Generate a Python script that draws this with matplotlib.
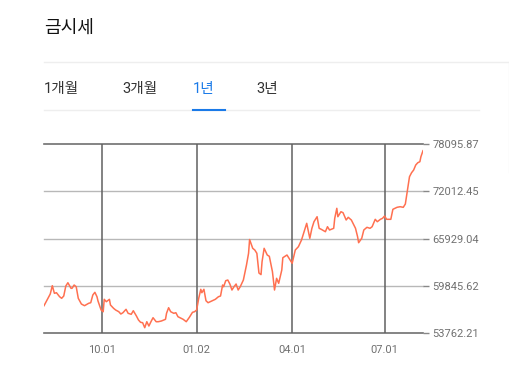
import matplotlib
matplotlib.use("Agg")
import matplotlib.pyplot as plt
from matplotlib.lines import Line2D

plt.rcParams['font.family'] = ['Roboto', 'Noto Sans CJK KR', 'DejaVu Sans']

# day offsets within the 1-year window and gold price
days = [0, 4, 6, 8, 10, 12, 15, 17, 19, 21, 23, 26, 27, 29, 31, 33, 36, 39, 43, 45,
        47, 49, 51, 52, 55, 57, 58, 60, 63, 64, 67, 69, 72, 74, 76, 79, 81, 84, 86, 89,
        91, 93, 95, 97, 99, 101, 103, 105, 108, 110, 113, 117, 118, 120, 122, 125, 127, 129, 132, 134,
        137, 140, 143, 145, 147, 149, 151, 152, 154, 156, 158, 162, 165, 168, 170, 172, 173, 175, 177, 179,
        181, 183, 185, 187, 189, 192, 195, 197, 198, 201, 203, 205, 207, 209, 210, 212, 215, 217, 220, 222,
        224, 226, 229, 230, 234, 236, 239, 242, 245, 248, 250, 253, 255, 256, 258, 260, 263, 265, 267, 271,
        273, 275, 279, 280, 282, 283, 286, 288, 291, 293, 296, 300, 302, 303, 306, 308, 311, 314, 316, 319,
        321, 324, 326, 328, 330, 334, 336, 340, 343, 346, 348, 350, 352, 354, 356, 358, 360, 362, 363, 365]
prices = [57250, 58244, 58761, 59833, 58851, 58929, 58412, 58205, 58502, 59794,
          60220, 59497, 59497, 59923, 59704, 58205, 57469, 57250, 57560, 57637,
          58632, 58980, 58412, 57857, 56694, 56475, 58076, 57766, 58076, 57340,
          56914, 56694, 56475, 56178, 56345, 56785, 56268, 56139, 56604, 55919,
          55403, 55106, 55054, 54408, 55183, 54628, 55183, 55700, 55183, 55183,
          55273, 55493, 56268, 56991, 56475, 56268, 56345, 55829, 55622, 55493,
          55183, 55751, 56397, 56475, 56694, 58205, 59368, 58929, 59368, 57895,
          57637, 57895, 58076, 58412, 58502, 59923, 59704, 60479, 60569, 60052,
          59277, 59704, 60052, 59277, 59704, 60569, 62506, 64018, 65800, 64663,
          64444, 64018, 61473, 61267, 62933, 64663, 63798, 63630, 61641, 59277,
          60789, 60143, 61861, 63449, 63798, 63372, 62726, 64444, 64870, 65735,
          66601, 67892, 66601, 65955, 67247, 68099, 68745, 67247, 67117, 66807,
          67453, 67027, 67247, 68538, 69830, 68745, 69391, 69261, 68319, 68667,
          68319, 67247, 66162, 65387, 65955, 67027, 67376, 67247, 67453, 68409,
          68099, 68409, 68538, 68835, 68409, 68409, 69701, 69959, 70036, 69959,
          70385, 72193, 73911, 74428, 74777, 75422, 75719, 75849, 76494, 77269]

x_tick_pos = [56, 147, 239, 328]
x_tick_labels = ['10.01', '01.02', '04.01', '07.01']
y_ticks = [53762.21, 59845.62, 65929.04, 72012.45, 78095.87]
tabs = ['1개월', '3개월', '1년', '3년']

fig = plt.figure(figsize=(5.1, 3.83), dpi=100)
ax = fig.add_axes([0.0863, 0.1313, 0.7431, 0.4919])

ax.plot(days, prices, color='#ff7050', lw=1.1, zorder=3)
ax.set_xlim(0, 365)
ax.set_ylim(y_ticks[0], y_ticks[-1])

for v in y_ticks:
    edge = v in (y_ticks[0], y_ticks[-1])
    ax.axhline(v, color='#707070' if edge else '#b8b8b8', lw=1.2 if edge else 1.0, zorder=1,
               clip_on=False)
for p in x_tick_pos:
    ax.axvline(p, color='#606060', lw=1.1, zorder=2)

for s in ax.spines.values():
    s.set_visible(False)

ax.yaxis.tick_right()
ax.set_yticks(y_ticks)
ax.set_yticklabels(['%.2f' % v for v in y_ticks])
ax.tick_params(axis='y', length=4, width=1, color='#888888', pad=3,
               labelsize=8, labelcolor='#707070')
ax.set_xticks(x_tick_pos)
ax.set_xticklabels(x_tick_labels)
ax.tick_params(axis='x', length=0, pad=9, labelsize=8, labelcolor='#707070')

# header
fig.text(44 / 510, 1 - 28 / 383, '금시세', fontsize=13, color='#111111',
         va='center', ha='left')
fig.add_artist(Line2D([44 / 510, 1], [1 - 61.5 / 383] * 2, color='#eeeeee', lw=1))
fig.add_artist(Line2D([509.5 / 510] * 2, [1 - 61.5 / 383, 0.55], color='#f2f2f2', lw=1))
tab_x = [44, 122, 193, 256]
for t, xp in zip(tabs, tab_x):
    fig.text(xp / 510, 1 - 89 / 383, t, fontsize=10.5,
             color='#1a7ae8' if t == '1년' else '#333333', va='center', ha='left')
fig.add_artist(Line2D([44 / 510, 479 / 510], [1 - 109.5 / 383] * 2, color='#eeeeee', lw=1))
fig.add_artist(Line2D([193 / 510, 225 / 510], [1 - 109.5 / 383] * 2, color='#1a7ae8', lw=1.5))

fig.savefig('out.png', dpi=100)
